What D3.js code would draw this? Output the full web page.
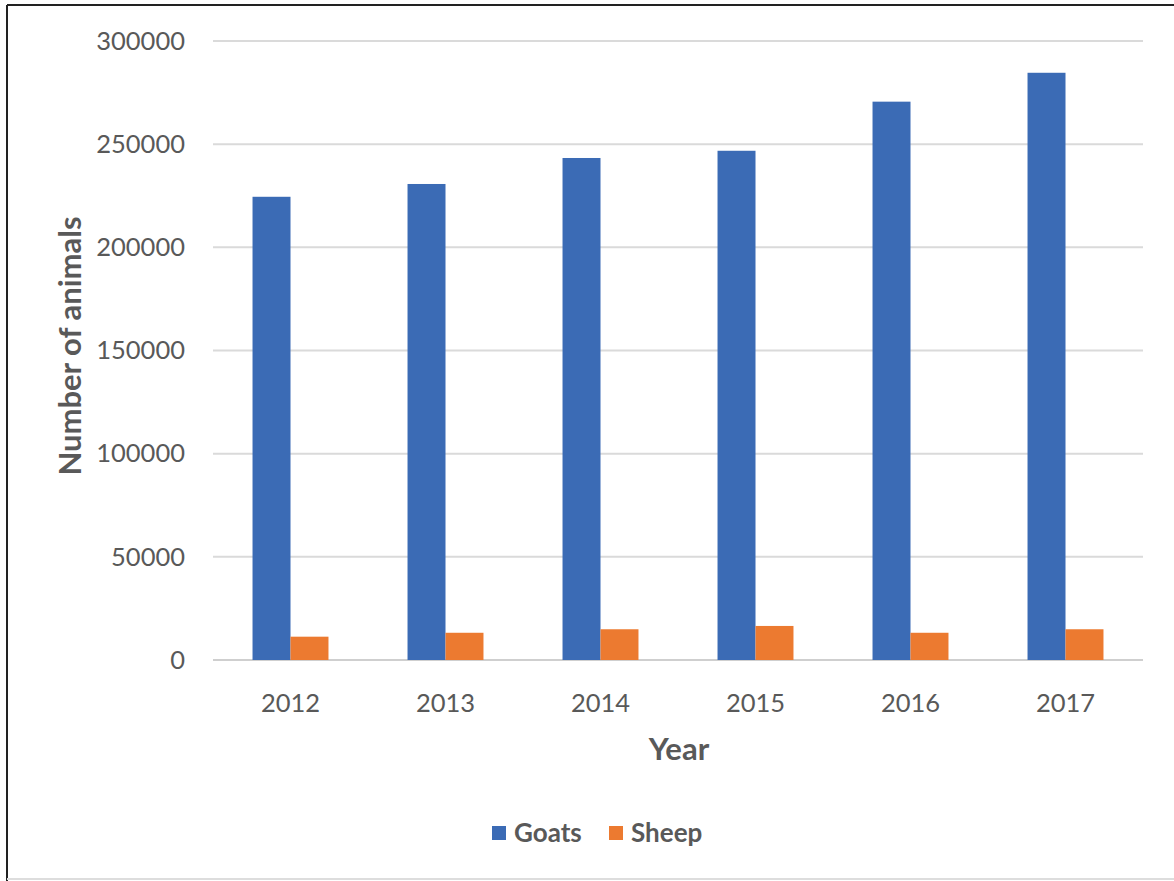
<!DOCTYPE html>
<html>
<head>
<meta charset="utf-8">
<script src="https://cdn.jsdelivr.net/npm/d3@7"></script>
<style>
  html, body { margin: 0; padding: 0; background: #fff; }
  svg { display: block; }
  text { font-family: Lato, "Open Sans", sans-serif; }
</style>
</head>
<body>
<script>
const years = ["2012", "2013", "2014", "2015", "2016", "2017"];
const seriesNames = ["Goats", "Sheep"];
const goats = [224500, 230700, 243300, 246800, 270600, 284600];
const sheep = [11300, 13200, 14900, 16500, 13200, 14900];
const yTicks = [0, 50000, 100000, 150000, 200000, 250000, 300000];
const colors = ["#3b6bb5", "#ec7a30"];

(function () {
const W = 1174, H = 881;
const svg = d3.select("body").append("svg").attr("width", W).attr("height", H);

// frame
svg.append("line").attr("x1", 7).attr("x2", 7).attr("y1", 5).attr("y2", H).attr("stroke", "#222").attr("stroke-width", 2);
svg.append("line").attr("x1", 7).attr("x2", W).attr("y1", 5).attr("y2", 5).attr("stroke", "#222").attr("stroke-width", 2);
svg.append("line").attr("x1", 7).attr("x2", W).attr("y1", 879).attr("y2", 879).attr("stroke", "#ddd").attr("stroke-width", 2);

const pLeft = 213, pRight = 1143, pTop = 41, pBottom = 660;

const x0 = d3.scaleBand().domain(years).range([pLeft, pRight]).paddingInner(0.51).paddingOuter(0.255);
const x1 = d3.scaleBand().domain(seriesNames).range([0, x0.bandwidth()]);
const y = d3.scaleLinear().domain([0, 300000]).range([pBottom, pTop]);

// gridlines
svg.append("g").selectAll("line").data(yTicks).join("line")
  .attr("x1", pLeft).attr("x2", pRight)
  .attr("y1", d => y(d)).attr("y2", d => y(d))
  .attr("stroke", d => d === 0 ? "#cfcfcf" : "#dadada").attr("stroke-width", 2);

// y axis labels
const yAxis = d3.axisLeft(y).tickValues(yTicks).tickFormat(d3.format("d")).tickSize(0).tickPadding(0);
const gy = svg.append("g").attr("transform", `translate(185,0)`).call(yAxis);
gy.select(".domain").remove();
gy.selectAll("text").attr("font-size", 25.5).attr("fill", "#595959").attr("font-family", "Lato, sans-serif");

// bars
const data = years.map((yr, i) => ({ year: yr, values: [goats[i], sheep[i]] }));
const groups = svg.append("g").selectAll("g").data(data).join("g")
  .attr("transform", d => `translate(${x0(d.year)},0)`);
groups.selectAll("rect").data(d => d.values.map((v, j) => ({ name: seriesNames[j], v, j })))
  .join("rect")
  .attr("x", d => x1(d.name))
  .attr("width", x1.bandwidth())
  .attr("y", d => y(d.v))
  .attr("height", d => y(0) - y(d.v))
  .attr("fill", d => colors[d.j]);

// x axis labels
const xAxis = d3.axisBottom(x0).tickSize(0).tickPadding(0);
const gx = svg.append("g").attr("transform", `translate(0,712)`).call(xAxis);
gx.select(".domain").remove();
gx.selectAll("text").attr("font-size", 25.5).attr("fill", "#595959").attr("dy", "0").attr("font-family", "Lato, sans-serif");

// axis titles
svg.append("text").attr("x", 679).attr("y", 760).attr("text-anchor", "middle")
  .attr("font-size", 31).attr("font-weight", "bold").attr("fill", "#595959").text("Year");
svg.append("text").attr("transform", "translate(81,346) rotate(-90)").attr("text-anchor", "middle")
  .attr("font-size", 31).attr("font-weight", "bold").attr("fill", "#595959").text("Number of animals");

// legend
const legendItems = [{ name: "Goats", x: 492, c: colors[0] }, { name: "Sheep", x: 609, c: colors[1] }];
const lg = svg.append("g").selectAll("g").data(legendItems).join("g")
  .attr("transform", d => `translate(${d.x},833)`);
lg.append("rect").attr("x", 0).attr("y", -7).attr("width", 14).attr("height", 14).attr("fill", d => d.c);
lg.append("text").attr("x", 22).attr("y", 9).attr("font-size", 26).attr("font-weight", "bold")
  .attr("fill", "#595959").text(d => d.name);
})();
</script>
</body>
</html>
